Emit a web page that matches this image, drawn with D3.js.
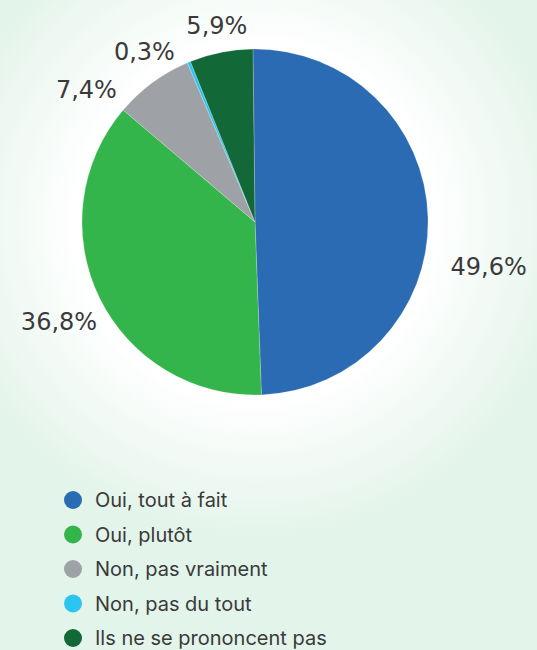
<!DOCTYPE html>
<html><head><meta charset="utf-8">
<script src="https://cdn.jsdelivr.net/npm/d3@7"></script>
<style>html,body{margin:0;padding:0;background:#e3f4ea;}svg{display:block;}</style>
</head><body>
<script>
const categories = ["Oui, tout à fait", "Oui, plutôt", "Non, pas vraiment", "Non, pas du tout", "Ils ne se prononcent pas"];
const values = [49.6, 36.8, 7.4, 0.3, 5.9];
const labels = ["49,6%", "36,8%", "7,4%", "0,3%", "5,9%"];
const colors = ["#2b6bb4", "#34b54b", "#9ea1a5", "#2bc5f1", "#136837"];

const W = 537, H = 650;
const cx = 255, cy = 222, R = 173;
// label layout: [angle (deg, clockwise from top), radius]
const labelLayout = [[101, 238], [243, 220], [308, 214], [327, 203], [349, 200]];

const svg = d3.select("body").append("svg").attr("width", W).attr("height", H);
const defs = svg.append("defs");
const grad = defs.append("radialGradient").attr("id", "bg")
  .attr("gradientUnits", "userSpaceOnUse").attr("cx", cx).attr("cy", cy).attr("r", 320);
grad.append("stop").attr("offset", 0).attr("stop-color", "#ffffff");
grad.append("stop").attr("offset", 0.55).attr("stop-color", "#ffffff");
grad.append("stop").attr("offset", 1).attr("stop-color", "#e3f4ea");
svg.append("rect").attr("width", W).attr("height", H).attr("fill", "url(#bg)");

const pie = d3.pie().sort(null).value(d => d).startAngle(-0.012).endAngle(2 * Math.PI - 0.012);
const arc = d3.arc().innerRadius(0).outerRadius(R);
const arcs = pie(values);

const g = svg.append("g").attr("transform", `translate(${cx},${cy})`);
g.selectAll("path").data(arcs).join("path")
  .attr("d", arc).attr("fill", (d, i) => colors[i])
  .attr("stroke", "rgba(255,255,255,0.35)").attr("stroke-width", 0.6);

g.selectAll("text").data(arcs).join("text")
  .attr("x", (d, i) => labelLayout[i][1] * Math.sin(labelLayout[i][0] * Math.PI / 180))
  .attr("y", (d, i) => -labelLayout[i][1] * Math.cos(labelLayout[i][0] * Math.PI / 180))
  .attr("text-anchor", "middle").attr("dominant-baseline", "central")
  .attr("font-family", "'DejaVu Sans', sans-serif").attr("font-weight", 400)
  .attr("font-size", 24).attr("fill", "#3a3a3a")
  .text((d, i) => labels[i]);

const leg = svg.append("g");
const ly = d3.scalePoint().domain(categories).range([500, 638]);
const item = leg.selectAll("g").data(categories).join("g")
  .attr("transform", d => `translate(73,${ly(d)})`);
item.append("circle").attr("r", 9).attr("fill", (d, i) => colors[i]);
item.append("text").attr("x", 22).attr("dy", "0.35em")
  .attr("font-family", "Inter, sans-serif").attr("font-size", 20).attr("fill", "#3a3a3a")
  .text(d => d);
</script>
</body></html>
